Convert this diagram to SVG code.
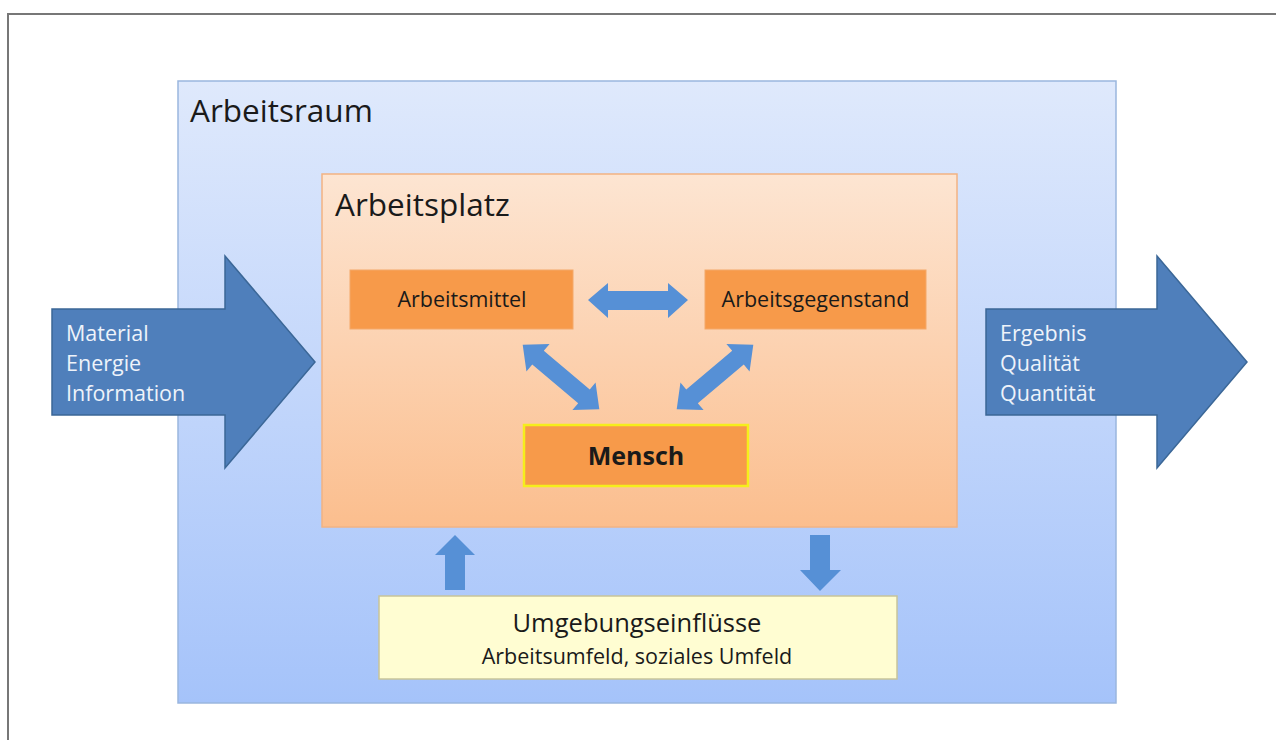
<svg xmlns="http://www.w3.org/2000/svg" width="1276" height="740" viewBox="0 0 1276 740">
<defs>
<linearGradient id="gRaum" x1="0" y1="0" x2="0" y2="1"><stop offset="0" stop-color="#dfe9fc"/><stop offset="1" stop-color="#a5c3fa"/></linearGradient>
<linearGradient id="gPlatz" x1="0" y1="0" x2="0" y2="1"><stop offset="0" stop-color="#fde5d2"/><stop offset="1" stop-color="#fbbe8e"/></linearGradient>
<style>
.t{font-family:"Open Sans","Liberation Sans",sans-serif;fill:#1a1a1a}
.w{font-family:"Open Sans","Liberation Sans",sans-serif;fill:#eef3fa;font-size:21.5px}
.box{fill:#f79a4a;stroke:#f4a868;stroke-width:1}
.big{fill:#4f7fbb;stroke:#3b6797;stroke-width:1.5}
.blue{fill:#5690d6}
</style>
</defs>
<rect x="0" y="0" width="1276" height="740" fill="#ffffff"/>
<rect x="8" y="14" width="1290" height="740" fill="none" stroke="#777" stroke-width="2"/>
<g id="arbeitsraum">
<rect x="178" y="81" width="938" height="622" fill="url(#gRaum)" stroke="#9ab6de" stroke-width="1.5"/>
<text class="t" x="190" y="122" font-size="31.5">Arbeitsraum</text>
</g>
<g id="arbeitsplatz">
<rect x="322" y="174" width="635" height="353" fill="url(#gPlatz)" stroke="#f2b383" stroke-width="1.5"/>
<text class="t" x="335" y="216" font-size="31.5">Arbeitsplatz</text>
</g>
<g id="input">
<polygon class="big" points="52,309 225,309 225,256 315,362 225,468 225,415 52,415"/>
<text class="w" x="66" y="341">Material</text>
<text class="w" x="66" y="371">Energie</text>
<text class="w" x="66" y="401">Information</text>
</g>
<g id="output">
<polygon class="big" points="986,309 1157,309 1157,256 1247,362 1157,468 1157,415 986,415"/>
<text class="w" x="1000" y="341">Ergebnis</text>
<text class="w" x="1000" y="371">Qualität</text>
<text class="w" x="1000" y="401">Quantität</text>
</g>
<g id="arbeitsmittel">
<rect class="box" x="350" y="270" width="223" height="59"/>
<text class="t" x="462" y="307" font-size="21.5" text-anchor="middle">Arbeitsmittel</text>
</g>
<g id="arbeitsgegenstand">
<rect class="box" x="705" y="270" width="221" height="59"/>
<text class="t" x="815.5" y="307" font-size="21.5" text-anchor="middle">Arbeitsgegenstand</text>
</g>
<g id="mensch">
<rect x="524" y="425" width="224" height="61" fill="#f79a4a" stroke="#f5ee1c" stroke-width="2.5"/>
<text class="t" x="636" y="465" font-size="25" font-weight="bold" text-anchor="middle">Mensch</text>
</g>
<g id="umgebung">
<rect x="379" y="596" width="518" height="83" fill="#fffdd2" stroke="#c8c49a" stroke-width="1.5"/>
<text class="t" x="637" y="632" font-size="25.5" text-anchor="middle">Umgebungseinflüsse</text>
<text class="t" x="637" y="664" font-size="21.5" text-anchor="middle">Arbeitsumfeld, soziales Umfeld</text>
</g>
<g id="connectors">
<polygon class="blue" points="588,300 608,283 608,291 668,291 668,283 688,300 668,318 668,310 608,310 608,318"/>
<g transform="translate(561,377) rotate(40)">
<polygon class="blue" points="-50,0 -30,-18 -30,-9 30,-9 30,-18 50,0 30,18 30,9 -30,9 -30,18"/>
</g>
<g transform="translate(715,377) rotate(-40)">
<polygon class="blue" points="-50,0 -30,-18 -30,-9 30,-9 30,-18 50,0 30,18 30,9 -30,9 -30,18"/>
</g>
<polygon class="blue" points="445,590 445,555 435,555 455,535 475,555 465,555 465,590"/>
<polygon class="blue" points="810,535 830,535 830,570 841,570 820,591 800,570 810,570"/>
</g>
</svg>
